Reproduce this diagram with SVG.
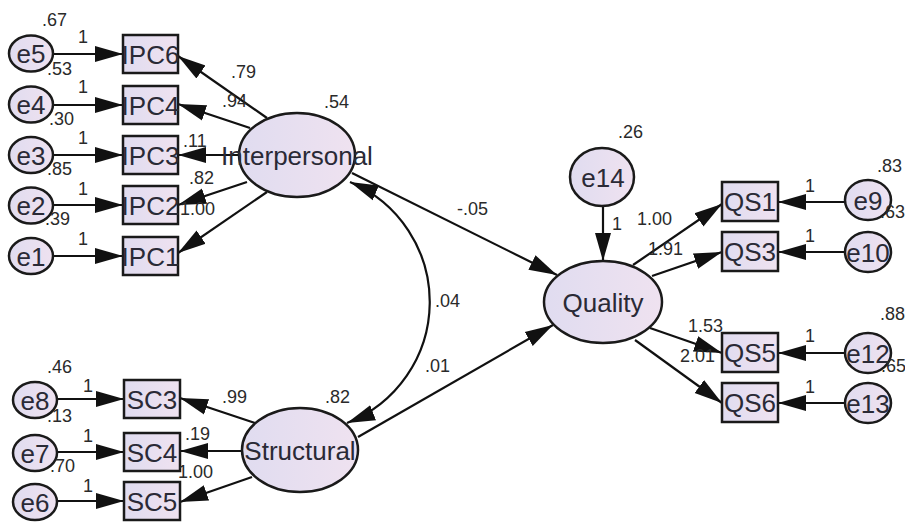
<svg xmlns="http://www.w3.org/2000/svg" width="905" height="523" viewBox="0 0 905 523">
<defs>
<linearGradient id="fillg" x1="0" y1="0" x2="1" y2="0">
<stop offset="0" stop-color="#e0dcf0"/>
<stop offset="1" stop-color="#efe2f0"/>
</linearGradient>
<marker id="arr" markerUnits="userSpaceOnUse" markerWidth="30" markerHeight="18" viewBox="0 0 30 18" refX="28" refY="9" orient="auto-start-reverse">
<path d="M0,1 L28,9 L0,17 z" fill="#111"/>
</marker>
</defs>
<style>
.bg{fill:#ffffff}
.n{fill:url(#fillg);stroke:#1a1a1a;stroke-width:2.5}
.t{font-family:"Liberation Sans",Arial,sans-serif;font-size:26px;fill:#2a2a36;text-anchor:middle}
.c{stroke:#111;stroke-width:2.2;fill:none;marker-end:url(#arr)}
.d{stroke:#111;stroke-width:2.2;fill:none;marker-start:url(#arr);marker-end:url(#arr)}
.l{font-family:"Liberation Sans",Arial,sans-serif;font-size:18px;fill:#2a2a2a}
</style>
<rect class="bg" x="0" y="0" width="905" height="523"/>
<g id="connectors">
<line class="c" x1="53" y1="54" x2="123" y2="54"/>
<line class="c" x1="53" y1="105" x2="123" y2="105"/>
<line class="c" x1="53" y1="155" x2="123" y2="155"/>
<line class="c" x1="53" y1="205" x2="123" y2="205"/>
<line class="c" x1="53" y1="256" x2="123" y2="256"/>
<line class="c" x1="57" y1="399" x2="124" y2="399"/>
<line class="c" x1="57" y1="452" x2="124" y2="452"/>
<line class="c" x1="57" y1="501" x2="124" y2="501"/>
<line class="c" x1="845" y1="202" x2="778" y2="202"/>
<line class="c" x1="845" y1="252" x2="778" y2="252"/>
<line class="c" x1="845" y1="353" x2="778" y2="353"/>
<line class="c" x1="845" y1="403" x2="778" y2="403"/>
<line class="c" x1="603" y1="206" x2="603" y2="261"/>
<line class="c" x1="267" y1="118" x2="178" y2="56"/>
<line class="c" x1="250" y1="128" x2="178" y2="104"/>
<line class="c" x1="240" y1="155" x2="178" y2="155"/>
<line class="c" x1="247" y1="182" x2="178" y2="205"/>
<line class="c" x1="267" y1="192" x2="178" y2="253"/>
<line class="c" x1="255" y1="423" x2="180" y2="398"/>
<line class="c" x1="242" y1="451" x2="180" y2="451"/>
<line class="c" x1="252" y1="477" x2="180" y2="502"/>
<line class="c" x1="633" y1="265" x2="722" y2="204"/>
<line class="c" x1="652" y1="276" x2="722" y2="252"/>
<line class="c" x1="650" y1="328" x2="722" y2="353"/>
<line class="c" x1="635" y1="340" x2="722" y2="403"/>
<line class="c" x1="352" y1="173" x2="557" y2="275"/>
<line class="c" x1="358" y1="437" x2="553" y2="325"/>
<path class="d" d="M350,182 A130,130 0 0 1 347,423"/>
</g>
<g id="nodes">
<g id="e5"><ellipse class="n" cx="31" cy="53.5" rx="22" ry="18"/><text class="t" x="31" y="63">e5</text></g>
<g id="e4"><ellipse class="n" cx="31" cy="104.5" rx="22" ry="18"/><text class="t" x="31" y="114">e4</text></g>
<g id="e3"><ellipse class="n" cx="31" cy="155" rx="22" ry="18"/><text class="t" x="31" y="164.5">e3</text></g>
<g id="e2"><ellipse class="n" cx="31" cy="205.5" rx="22" ry="18"/><text class="t" x="31" y="215">e2</text></g>
<g id="e1"><ellipse class="n" cx="31" cy="256" rx="22" ry="18"/><text class="t" x="31" y="265.5">e1</text></g>
<g id="IPC6"><rect class="n" x="123" y="35" width="55" height="38"/><text class="t" x="150.5" y="63.5">IPC6</text></g>
<g id="IPC4"><rect class="n" x="123" y="86" width="55" height="38"/><text class="t" x="150.5" y="114.5">IPC4</text></g>
<g id="IPC3"><rect class="n" x="123" y="136" width="55" height="38"/><text class="t" x="150.5" y="164.5">IPC3</text></g>
<g id="IPC2"><rect class="n" x="123" y="186" width="55" height="38"/><text class="t" x="150.5" y="214.5">IPC2</text></g>
<g id="IPC1"><rect class="n" x="123" y="237" width="55" height="38"/><text class="t" x="150.5" y="265.5">IPC1</text></g>
<g id="Interpersonal"><ellipse class="n" cx="297" cy="155" rx="58" ry="42"/><text class="t" x="297" y="165">Interpersonal</text></g>
<g id="e8"><ellipse class="n" cx="35" cy="400" rx="22" ry="18"/><text class="t" x="35" y="409.5">e8</text></g>
<g id="e7"><ellipse class="n" cx="35" cy="453" rx="22" ry="18"/><text class="t" x="35" y="462.5">e7</text></g>
<g id="e6"><ellipse class="n" cx="35" cy="502" rx="22" ry="18"/><text class="t" x="35" y="511.5">e6</text></g>
<g id="SC3"><rect class="n" x="124" y="380" width="56" height="38"/><text class="t" x="152" y="408.5">SC3</text></g>
<g id="SC4"><rect class="n" x="124" y="433" width="56" height="38"/><text class="t" x="152" y="461.5">SC4</text></g>
<g id="SC5"><rect class="n" x="124" y="482" width="56" height="38"/><text class="t" x="152" y="510.5">SC5</text></g>
<g id="Structural"><ellipse class="n" cx="300" cy="450" rx="58" ry="42"/><text class="t" x="300" y="459.5">Structural</text></g>
<g id="e14"><ellipse class="n" cx="602" cy="177" rx="32" ry="29"/><text class="t" x="603" y="186.5">e14</text></g>
<g id="Quality"><ellipse class="n" cx="603" cy="302" rx="59" ry="41"/><text class="t" x="603" y="311.5">Quality</text></g>
<g id="QS1"><rect class="n" x="722" y="182" width="56" height="39"/><text class="t" x="750" y="211">QS1</text></g>
<g id="QS3"><rect class="n" x="722" y="232" width="56" height="39"/><text class="t" x="750" y="261">QS3</text></g>
<g id="QS5"><rect class="n" x="722" y="333" width="56" height="39"/><text class="t" x="750" y="362">QS5</text></g>
<g id="QS6"><rect class="n" x="722" y="383" width="56" height="39"/><text class="t" x="750" y="412">QS6</text></g>
<g id="e9"><ellipse class="n" cx="868" cy="200" rx="23" ry="20"/><text class="t" x="868" y="209.5">e9</text></g>
<g id="e10"><ellipse class="n" cx="868" cy="252" rx="23" ry="20"/><text class="t" x="868" y="261.5">e10</text></g>
<g id="e12"><ellipse class="n" cx="868" cy="353" rx="23" ry="20"/><text class="t" x="868" y="362.5">e12</text></g>
<g id="e13"><ellipse class="n" cx="868" cy="403" rx="23" ry="20"/><text class="t" x="868" y="412.5">e13</text></g>
</g>
<g id="labels">
<text class="l" x="42" y="26">.67</text>
<text class="l" x="47" y="75">.53</text>
<text class="l" x="49" y="125">.30</text>
<text class="l" x="47" y="175">.85</text>
<text class="l" x="45" y="225">.39</text>
<text class="l" x="78" y="43">1</text>
<text class="l" x="78" y="93">1</text>
<text class="l" x="78" y="144">1</text>
<text class="l" x="78" y="195">1</text>
<text class="l" x="78" y="245">1</text>
<text class="l" x="231" y="78">.79</text>
<text class="l" x="222" y="107">.94</text>
<text class="l" x="183" y="147">.11</text>
<text class="l" x="189" y="184">.82</text>
<text class="l" x="180" y="215">1.00</text>
<text class="l" x="324" y="108">.54</text>
<text class="l" x="47" y="373">.46</text>
<text class="l" x="47" y="422">.13</text>
<text class="l" x="50" y="472">.70</text>
<text class="l" x="83" y="392">1</text>
<text class="l" x="83" y="442">1</text>
<text class="l" x="83" y="492">1</text>
<text class="l" x="222" y="403">.99</text>
<text class="l" x="325" y="403">.82</text>
<text class="l" x="185" y="440">.19</text>
<text class="l" x="178" y="478">1.00</text>
<text class="l" x="457" y="215">-.05</text>
<text class="l" x="435" y="307">.04</text>
<text class="l" x="425" y="372">.01</text>
<text class="l" x="618" y="138">.26</text>
<text class="l" x="612" y="230">1</text>
<text class="l" x="637" y="225">1.00</text>
<text class="l" x="648" y="255">1.91</text>
<text class="l" x="688" y="332">1.53</text>
<text class="l" x="680" y="362">2.01</text>
<text class="l" x="805" y="192">1</text>
<text class="l" x="805" y="242">1</text>
<text class="l" x="805" y="342">1</text>
<text class="l" x="805" y="393">1</text>
<text class="l" x="877" y="172">.83</text>
<text class="l" x="880" y="218">.63</text>
<text class="l" x="880" y="320">.88</text>
<text class="l" x="881" y="372">.65</text>
</g>
</svg>
